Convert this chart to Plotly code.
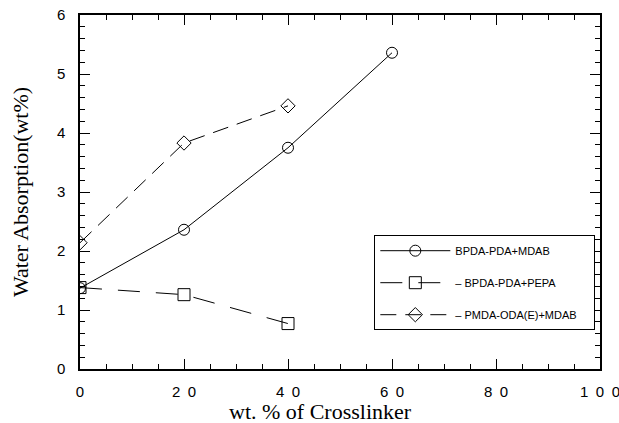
import plotly.graph_objects as go

# Water absorption vs. crosslinker loading
x_mdab = [0, 20, 40, 60]
y_mdab = [1.37, 2.36, 3.75, 5.36]

x_pepa = [0, 20, 40]
y_pepa = [1.38, 1.26, 0.77]

x_oda = [0, 20, 40]
y_oda = [2.14, 3.83, 4.46]

# x tick labels are printed with spaced digits
x_tick_numbers = ["20", "40", "60", "80", "100"]
x_tick_spaced = ["2\u20020", "4\u20020", "6\u20020", "8\u20020", "1\u20020\u20020"]

fig = go.Figure()
fig.add_trace(go.Scatter(
    x=x_mdab, y=y_mdab, mode="lines+markers", name="BPDA-PDA+MDAB",
    legendgroup="a",
    line=dict(color="black", width=1),
    marker=dict(symbol="circle-open", size=11, color="black", line=dict(width=1)),
))
fig.add_trace(go.Scatter(
    x=x_pepa, y=y_pepa, mode="lines+markers", name="– BPDA-PDA+PEPA",
    legendgroup="b",
    line=dict(color="black", width=1, dash="22px,16px"),
    marker=dict(symbol="square-open", size=12, color="black", line=dict(width=1)),
))
fig.add_trace(go.Scatter(
    x=x_oda, y=y_oda, mode="lines+markers",
    name="– PMDA-ODA(E)+MDAB\u00a0\u00a0\u00a0\u00a0",
    legendgroup="c",
    line=dict(color="black", width=1, dash="16px,9px"),
    marker=dict(symbol="diamond-open", size=11, color="black", line=dict(width=1)),
))

axis_common = dict(
    showline=True, linecolor="black", linewidth=1.5, mirror="allticks",
    ticks="inside", ticklen=10, tickcolor="black", tickwidth=1.3,
    gridcolor="white", zeroline=False, automargin=False,
    ticklabeloverflow="allow",
    tickfont=dict(family="Liberation Sans, Arial", size=15, color="black"),
)

fig.update_xaxes(
    range=[0, 100], tickmode="linear", tick0=0, dtick=20,
    labelalias=dict(zip(x_tick_numbers, x_tick_spaced)),
    ticklabelstandoff=8,
    minor=dict(dtick=5, ticks="inside", ticklen=5, tickcolor="black", tickwidth=1),
    **axis_common,
)
fig.update_yaxes(
    range=[0, 6], tickmode="linear", tick0=0, dtick=1,
    ticklabelstandoff=10,
    minor=dict(dtick=0.2, ticks="inside", ticklen=5, tickcolor="black", tickwidth=1),
    title=dict(text="Water Absorption(wt%)", standoff=22,
               font=dict(family="Liberation Serif, Times New Roman", size=22, color="black")),
    **axis_common,
)

# x-axis title, set slightly left of the plot centre
fig.add_annotation(
    text="wt. % of Crosslinker", xref="paper", yref="paper",
    x=0.463, y=-0.119, xanchor="center", yanchor="middle", showarrow=False,
    font=dict(family="Liberation Serif, Times New Roman", size=22, color="black"),
)

fig.update_layout(
    width=619, height=423,
    margin=dict(l=80, r=19, t=15, b=54),
    plot_bgcolor="white", paper_bgcolor="white",
    legend=dict(
        x=0.566, y=0.378, xanchor="left", yanchor="top",
        bordercolor="black", borderwidth=1, bgcolor="white",
        font=dict(family="Liberation Sans, Arial", size=11, color="black"),
        itemwidth=70, tracegroupgap=13,
    ),
)

fig.write_html("out.html")
